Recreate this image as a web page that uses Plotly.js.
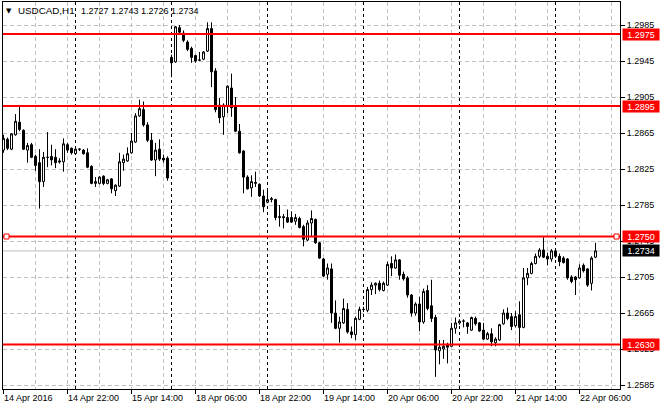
<!DOCTYPE html>
<html>
<head>
<meta charset="utf-8">
<script src="https://cdn.plot.ly/plotly-3.0.1.min.js"></script>
<style>
html,body{margin:0;padding:0;background:#fff;}
#chart{width:660px;height:410px;}
</style>
</head>
<body>
<div id="chart"></div>
<script>
// ---------- data ----------
const symbol = 'USDCAD,H1';
const year = '2016';
// trading sessions shown: [day label, first hour, last hour] (H1 bars)
const sessions = [
  ['14 Apr', 6, 23], ['15 Apr', 0, 23], ['18 Apr', 0, 23], ['19 Apr', 0, 23],
  ['20 Apr', 0, 23], ['21 Apr', 0, 23], ['22 Apr', 0, 10]
];
const open = [
1.2846,1.2858,1.2847,1.2863,1.2877,1.2868,1.2846,1.2852,1.2839,1.2832,
1.2811,1.2838,1.2839,1.2838,1.2834,1.2833,1.2852,1.2848,1.2842,1.2847,
1.2846,1.2843,1.2828,1.2809,1.2809,1.2817,1.2809,1.2814,1.2801,1.2806,
1.2832,1.2834,1.2843,1.2855,1.2884,1.2891,1.2874,1.2857,1.2835,1.2847,
1.2837,1.2837,1.2949,1.2944,1.2982,1.2976,1.2966,1.2959,1.2951,1.2946,
1.2947,1.2956,1.2981,1.2934,1.2896,1.2883,1.2895,1.2915,1.2894,1.2867,
1.2845,1.2816,1.2804,1.2809,1.2808,1.2795,1.2788,1.2791,1.2791,1.2771,
1.2772,1.2771,1.2771,1.2767,1.2770,1.2761,1.2746,1.2765,1.2769,1.2743,
1.2725,1.2708,1.2714,1.2665,1.2648,1.2654,1.2669,1.2644,1.2641,1.2658,
1.2669,1.2668,1.2691,1.2696,1.2698,1.2690,1.2696,1.2720,1.2715,1.2724,
1.2708,1.2704,1.2685,1.2665,1.2675,1.2655,1.2690,1.2673,1.2660,1.2623,
1.2625,1.2630,1.2628,1.2648,1.2654,1.2656,1.2654,1.2646,1.2659,1.2654,
1.2646,1.2636,1.2642,1.2632,1.2635,1.2653,1.2665,1.2661,1.2651,1.2663,
1.2649,1.2704,1.2709,1.2720,1.2728,1.2735,1.2728,1.2725,1.2734,1.2728,
1.2726,1.2725,1.2705,1.2705,1.2704,1.2718,1.2714,1.2698,1.2727
];
const high = [
1.2863,1.2860,1.2865,1.2886,1.2894,1.2869,1.2854,1.2854,1.2841,1.2847,
1.2844,1.2866,1.2852,1.2847,1.2837,1.2859,1.2854,1.2849,1.2848,1.2848,
1.2847,1.2848,1.2829,1.2816,1.2817,1.2818,1.2814,1.2815,1.2808,1.2843,
1.2841,1.2849,1.2865,1.2887,1.2902,1.2900,1.2877,1.2865,1.2854,1.2858,
1.2841,1.2839,1.2952,1.2984,1.2985,1.2979,1.2968,1.2961,1.2952,1.2955,
1.2956,1.2988,1.2988,1.2937,1.2904,1.2898,1.2918,1.2931,1.2905,1.2875,
1.2846,1.2818,1.2818,1.2822,1.2809,1.2802,1.2802,1.2794,1.2792,1.2785,
1.2775,1.2780,1.2778,1.2775,1.2772,1.2763,1.2768,1.2779,1.2770,1.2744,
1.2726,1.2720,1.2720,1.2679,1.2661,1.2681,1.2676,1.2650,1.2661,1.2672,
1.2672,1.2694,1.2699,1.2699,1.2701,1.2700,1.2722,1.2728,1.2730,1.2725,
1.2711,1.2706,1.2686,1.2677,1.2683,1.2692,1.2696,1.2702,1.2663,1.2635,
1.2635,1.2632,1.2654,1.2660,1.2658,1.2658,1.2655,1.2661,1.2661,1.2655,
1.2654,1.2644,1.2648,1.2638,1.2653,1.2669,1.2671,1.2665,1.2667,1.2678,
1.2715,1.2715,1.2722,1.2731,1.2737,1.2749,1.2732,1.2736,1.2736,1.2731,
1.2728,1.2726,1.2707,1.2706,1.2719,1.2720,1.2715,1.2728,1.2743
];
const low = [
1.2843,1.2846,1.2846,1.2862,1.2867,1.2846,1.2832,1.2837,1.2823,1.2781,
1.2805,1.2827,1.2829,1.2826,1.2831,1.2822,1.2843,1.2841,1.2841,1.2845,
1.2841,1.2826,1.2808,1.2805,1.2808,1.2807,1.2808,1.2798,1.2795,1.2805,
1.2823,1.2833,1.2842,1.2854,1.2883,1.2872,1.2855,1.2834,1.2817,1.2834,
1.2832,1.2812,1.2927,1.2943,1.2974,1.2966,1.2956,1.2943,1.2943,1.2945,
1.2946,1.2955,1.2916,1.2888,1.2876,1.2863,1.2887,1.2883,1.2866,1.2842,
1.2798,1.2802,1.2794,1.2805,1.2794,1.2777,1.2787,1.2788,1.2768,1.2761,
1.2759,1.2765,1.2765,1.2763,1.2759,1.2739,1.2745,1.2750,1.2742,1.2725,
1.2705,1.2702,1.2654,1.2647,1.2632,1.2653,1.2642,1.2637,1.2635,1.2657,
1.2666,1.2666,1.2685,1.2686,1.2689,1.2689,1.2695,1.2706,1.2714,1.2702,
1.2701,1.2682,1.2661,1.2662,1.2645,1.2653,1.2668,1.2655,1.2594,1.2608,
1.2614,1.2609,1.2628,1.2642,1.2652,1.2649,1.2642,1.2645,1.2651,1.2644,
1.2635,1.2635,1.2628,1.2628,1.2634,1.2652,1.2657,1.2646,1.2649,1.2628,
1.2648,1.2696,1.2708,1.2719,1.2726,1.2726,1.2718,1.2722,1.2726,1.2717,
1.2720,1.2702,1.2698,1.2685,1.2703,1.2710,1.2694,1.2690,1.2726
];
const close = [
1.2859,1.2848,1.2864,1.2878,1.2869,1.2847,1.2851,1.2838,1.2829,1.2811,
1.2838,1.2838,1.2835,1.2832,1.2833,1.2853,1.2846,1.2843,1.2847,1.2847,
1.2842,1.2827,1.2809,1.2811,1.2816,1.2809,1.2813,1.2803,1.2807,1.2833,
1.2836,1.2842,1.2856,1.2884,1.2892,1.2874,1.2857,1.2835,1.2846,1.2836,
1.2835,1.2815,1.2943,1.2983,1.2977,1.2968,1.2958,1.2949,1.2945,1.2946,
1.2955,1.2981,1.2933,1.2891,1.2882,1.2896,1.2917,1.2893,1.2867,1.2843,
1.2816,1.2803,1.2811,1.2810,1.2795,1.2783,1.2791,1.2792,1.2771,1.2772,
1.2771,1.2766,1.2766,1.2771,1.2760,1.2747,1.2765,1.2770,1.2743,1.2726,
1.2706,1.2715,1.2665,1.2648,1.2655,1.2670,1.2644,1.2641,1.2659,1.2669,
1.2669,1.2691,1.2696,1.2698,1.2691,1.2698,1.2719,1.2715,1.2724,1.2707,
1.2703,1.2685,1.2665,1.2675,1.2655,1.2689,1.2670,1.2659,1.2624,1.2627,
1.2628,1.2627,1.2648,1.2654,1.2656,1.2656,1.2650,1.2660,1.2653,1.2645,
1.2636,1.2642,1.2633,1.2636,1.2652,1.2665,1.2659,1.2650,1.2661,1.2649,
1.2704,1.2709,1.2720,1.2728,1.2735,1.2727,1.2725,1.2734,1.2728,1.2722,
1.2721,1.2704,1.2700,1.2702,1.2715,1.2712,1.2696,1.2726,1.2734
];
const levels = [1.2975, 1.2895, 1.2750, 1.2630];
const selectedLevel = 1.2750;
const yTicks = [1.2585, 1.2625, 1.2665, 1.2705, 1.2745, 1.2785, 1.2825, 1.2865, 1.2905, 1.2945, 1.2985];

// ---------- derived ----------
const N = open.length;
const idx = open.map((_, i) => i);
const times = [];
sessions.forEach(s => { for (let h = s[1]; h <= s[2]; h++) times.push({ day: s[0], hour: h }); });
const pad2 = n => (n < 10 ? '0' : '') + n;
const labelVals = [], labelText = [];
for (let i = 0; i < N; i += 16) {
  labelVals.push(i);
  labelText.push(i === 0 ? times[i].day + ' ' + year : times[i].day + ' ' + pad2(times[i].hour) + ':00');
}
const gridVals = [];
for (let i = 0; i <= N + 6; i += 8) gridVals.push(i);
const separators = idx.filter(i => times[i] && times[i].hour === 0 && i > 0);
const last = N - 1;

const FONT = '"Liberation Sans", Arial, sans-serif';
const xRange = [-0.125, 154.125];
const yRange = [1.258056, 1.301056];
const GRID = '#c0c0c0';

const traces = [
  {
    type: 'candlestick', x: idx, open: open, high: high, low: low, close: close,
    increasing: { line: { color: '#000', width: 1 }, fillcolor: '#ffffff' },
    decreasing: { line: { color: '#000', width: 1 }, fillcolor: '#000000' },
    whiskerwidth: 0, hoverinfo: 'skip', showlegend: false
  },
  { type: 'scatter', x: [null], y: [null], xaxis: 'x2', yaxis: 'y', hoverinfo: 'skip', showlegend: false }
];

const shapes = [];
separators.forEach(i => shapes.push({
  type: 'line', xref: 'x', yref: 'paper', x0: i, x1: i, y0: 0, y1: 1,
  line: { color: '#000', width: 1, dash: '3px,3px' }, layer: 'below'
}));
shapes.push({
  type: 'line', xref: 'paper', x0: 0, x1: 1, yref: 'y', y0: close[last], y1: close[last],
  line: { color: GRID, width: 1 }, layer: 'below'
});
levels.forEach(v => shapes.push({
  type: 'line', xref: 'paper', x0: 0, x1: 1, yref: 'y', y0: v, y1: v,
  line: { color: '#ff0000', width: 2 }
}));
[[0, 1, 6], [1, -6, -1]].forEach(s => shapes.push({
  type: 'rect', xref: 'paper', xsizemode: 'pixel', xanchor: s[0], x0: s[1], x1: s[2],
  yref: 'y', ysizemode: 'pixel', yanchor: selectedLevel, y0: -2.5, y1: 2.5,
  fillcolor: '#ffffff', line: { color: '#ff0000', width: 1 }
}));

const annotations = [];
levels.forEach(v => annotations.push({
  xref: 'paper', x: 1, xanchor: 'left', xshift: 2, yref: 'y', y: v, yanchor: 'middle',
  text: v.toFixed(4), showarrow: false, bgcolor: '#ff0000', borderpad: 0,
  width: 36, height: 11, align: 'center', valign: 'middle',
  font: { family: FONT, size: 9, color: '#ffffff' }
}));
annotations.push({
  xref: 'paper', x: 1, xanchor: 'left', xshift: 2, yref: 'y', y: close[last], yanchor: 'middle',
  text: close[last].toFixed(4), showarrow: false, bgcolor: '#000000', borderpad: 0,
  width: 36, height: 11, align: 'center', valign: 'middle',
  font: { family: FONT, size: 9, color: '#ffffff' }
});
annotations.push({
  xref: 'paper', x: 0, xanchor: 'center', xshift: 6, yref: 'paper', y: 1, yanchor: 'middle', yshift: -8.5,
  text: '\u25BC', showarrow: false, borderpad: 0, font: { family: 'DejaVu Sans', size: 7, color: '#000' }
});
annotations.push({
  xref: 'paper', x: 0, xanchor: 'left', xshift: 14, yref: 'paper', y: 1, yanchor: 'middle', yshift: -8.7,
  text: symbol, showarrow: false, borderpad: 0, font: { family: FONT, size: 9.8, color: '#000' }
});
annotations.push({
  xref: 'paper', x: 0, xanchor: 'left', xshift: 77, yref: 'paper', y: 1, yanchor: 'middle', yshift: -8.7,
  text: [open[last], high[last], low[last], close[last]].map(v => v.toFixed(4)).join(' '),
  showarrow: false, borderpad: 0, font: { family: FONT, size: 9, color: '#000' }
});

const layout = {
  width: 660, height: 410,
  margin: { l: 3, r: 40, t: 2, b: 21, pad: 0 },
  paper_bgcolor: '#ffffff', plot_bgcolor: '#ffffff',
  font: { family: FONT, size: 9, color: '#000' },
  showlegend: false,
  boxgap: 0.5, boxgroupgap: 0,
  xaxis: {
    range: xRange, tickmode: 'array', tickvals: gridVals, showticklabels: false, ticks: '',
    showgrid: true, gridcolor: GRID, gridwidth: 1, griddash: '4px,3px',
    showline: true, linecolor: '#000', linewidth: 1, mirror: true, zeroline: false,
    rangeslider: { visible: false }, fixedrange: true
  },
  xaxis2: {
    overlaying: 'x', anchor: 'y', side: 'bottom', range: xRange,
    tickmode: 'array', tickvals: labelVals, ticktext: labelText,
    ticks: 'outside', ticklen: 4, tickcolor: '#000', tickwidth: 1,
    ticklabelposition: 'outside right',
    showgrid: false, zeroline: false, showline: false, fixedrange: true,
    tickfont: { family: FONT, size: 9, color: '#000' }
  },
  yaxis: {
    side: 'right', range: yRange, tickmode: 'array', tickvals: yTicks,
    ticktext: yTicks.map(v => v.toFixed(4)),
    ticks: 'outside', ticklen: 4, tickcolor: '#000', tickwidth: 1,
    showgrid: true, gridcolor: GRID, gridwidth: 1, griddash: '4px,3px',
    showline: true, linecolor: '#000', linewidth: 1, mirror: true, zeroline: false,
    fixedrange: true, tickfont: { family: FONT, size: 9, color: '#000' }
  },
  shapes: shapes,
  annotations: annotations
};

Plotly.newPlot('chart', traces, layout, { staticPlot: true, displayModeBar: false });
</script>
</body>
</html>
